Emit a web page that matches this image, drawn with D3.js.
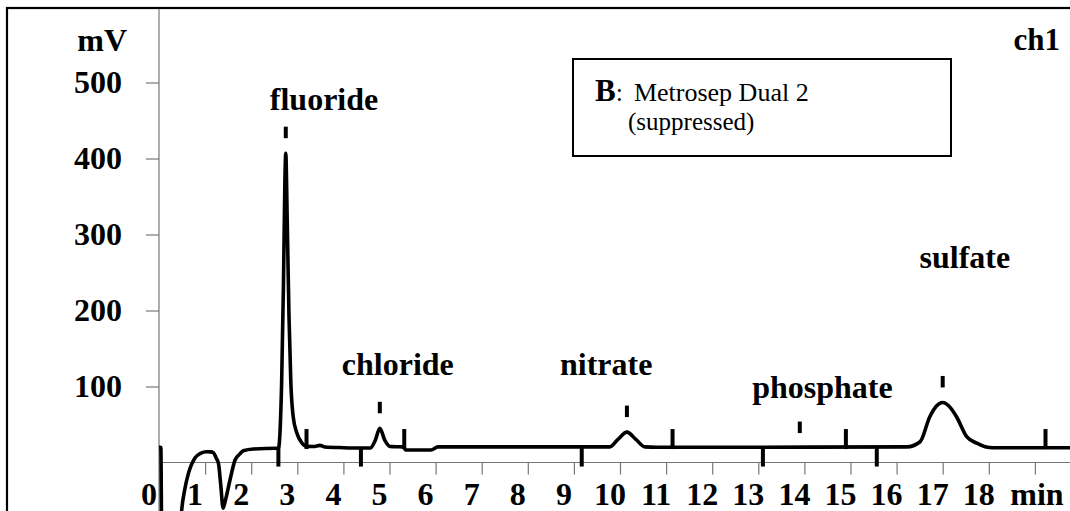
<!DOCTYPE html>
<html><head><meta charset="utf-8">
<script src="https://cdn.jsdelivr.net/npm/d3@7"></script>
<style>html,body{margin:0;padding:0;background:#fff;overflow:hidden}svg{display:block}</style>
</head><body><svg id="c" width="1070" height="511"></svg>
<script>
// ---- data ----
const traceTime = [0, 0.04, 0.06, 0.45, 0.49, 0.56, 0.64, 0.78, 0.9, 1.03, 1.12, 1.18, 1.24, 1.29, 1.34, 1.39, 1.44, 1.54, 1.65, 1.75, 1.83, 2.05, 2.55, 2.59, 2.66, 2.70, 2.73, 2.75, 2.78, 2.82, 2.86, 2.91, 2.99, 3.10, 3.20, 3.35, 3.49, 3.6, 4.0, 4.4, 4.58, 4.69, 4.79, 4.9, 5.01, 5.12, 5.3, 5.35, 5.9, 6.05, 9.78, 9.95, 10.15, 10.35, 10.54, 10.8, 16.22, 16.51, 16.72, 16.86, 17.0, 17.14, 17.3, 17.52, 17.74, 17.92, 18.1, 19.8];
const traceMV   = [20, 20, -100, -100, -64, -35, -14, 6, 12, 14.2, 14, 12.9, 6, -1, -30, -60, -50, -23, 3.3, 11, 15.5, 17.8, 18.7, 18.7, 104.6, 235, 367, 407, 323, 192, 104.6, 60.7, 38.8, 25.7, 21.2, 21, 22.5, 20.5, 19.5, 19, 19, 29, 45, 29, 21, 20.8, 20.5, 16.5, 16.5, 20.5, 20.5, 30, 40, 30, 20.5, 20, 20.5, 27.3, 60.2, 74, 79, 74, 60.2, 34, 25.4, 20.8, 19.5, 19.5];

const xTickValues = [1, 2, 3, 4, 5, 6, 7, 8, 9, 10, 11, 12, 13, 14, 15, 16, 17, 18, 19];
const xTickLabels = ["0", "1", "2", "3", "4", "5", "6", "7", "8", "9", "10", "11", "12", "13", "14", "15", "16", "17", "18"];
const yTickValues = [100, 200, 300, 400, 500];

const peakNames = ["fluoride", "chloride", "nitrate", "phosphate", "sulfate"];
const peakTimes = [2.75, 4.79, 10.15, 13.9, 17.0];
const peakMV    = [407, 45, 40, 19, 79];
const windowStart = [2.59, 4.38, 9.17, 13.1, 15.57];
const windowEnd   = [3.20, 5.32, 11.14, 14.9, 19.23];
const baselineMV = 19;

// label anchor positions (time, mV) – layout only
const labelTime = [3.58, 5.18, 9.70, 14.39, 17.48];
const labelMV   = [464, 115, 115, 85, 256];

// ---- drawing ----
const svg = d3.select("#c");
const FONT = "'Liberation Serif','Times New Roman',Times,serif";
const x = d3.scaleLinear().domain([0, 19]).range([159, 1034.9]);
const y = d3.scaleLinear().domain([0, 500]).range([462.5, 82.5]);

// outer frame (extends beyond picture on right and bottom)
svg.append("rect").attr("x", 7).attr("y", 8).attr("width", 1200).attr("height", 700)
  .attr("fill", "none").attr("stroke", "#000").attr("stroke-width", 2.2);

// y axis
const yAxis = d3.axisLeft(y).tickValues(yTickValues).tickSize(13).tickPadding(24).tickFormat(d3.format("d"));
const gy = svg.append("g").attr("transform", "translate(159,0)").call(yAxis);
gy.select(".domain").remove();
gy.selectAll(".tick line").attr("stroke", "#777").attr("stroke-width", 1.2);
gy.selectAll(".tick text").attr("font-family", FONT).attr("font-weight", "bold").attr("font-size", 32).attr("fill", "#000");
svg.append("line").attr("x1", 159).attr("x2", 159).attr("y1", 9).attr("y2", 511).attr("stroke", "#777").attr("stroke-width", 1.2);

// x axis
const xAxis = d3.axisBottom(x).tickValues(xTickValues).tickSize(12).tickFormat("");
const gx = svg.append("g").attr("transform", `translate(0,${y(0)})`).call(xAxis);
gx.select(".domain").remove();
gx.selectAll(".tick line").attr("stroke", "#777").attr("stroke-width", 1.2);
svg.append("line").attr("x1", 159).attr("x2", 1070).attr("y1", y(0)).attr("y2", y(0)).attr("stroke", "#777").attr("stroke-width", 1.2);

svg.append("g").selectAll("text").data(xTickLabels).join("text")
  .attr("x", (d, i) => x(i) - 10).attr("y", 505)
  .attr("text-anchor", "middle").attr("font-family", FONT).attr("font-weight", "bold").attr("font-size", 32)
  .text(d => d);
svg.append("text").attr("x", x(19) + 2).attr("y", 505).attr("text-anchor", "middle")
  .attr("font-family", FONT).attr("font-weight", "bold").attr("font-size", 32).text("min");

// axis titles
svg.append("text").attr("x", 127).attr("y", 50.5).attr("text-anchor", "end")
  .attr("font-family", FONT).attr("font-weight", "bold").attr("font-size", 32).text("mV");
svg.append("text").attr("x", 1060).attr("y", 50).attr("text-anchor", "end")
  .attr("font-family", FONT).attr("font-weight", "bold").attr("font-size", 31).text("ch1");

// legend box
svg.append("rect").attr("x", 573).attr("y", 59).attr("width", 378).attr("height", 97)
  .attr("fill", "#fff").attr("stroke", "#000").attr("stroke-width", 2);
const lt = svg.append("text").attr("x", 595).attr("y", 101).attr("font-family", FONT);
lt.append("tspan").attr("font-weight", "bold").attr("font-size", 31).text("B");
lt.append("tspan").attr("font-size", 26).text(":");
lt.append("tspan").attr("font-size", 26).attr("dx", 11).text("Metrosep Dual 2");
svg.append("text").attr("x", 628).attr("y", 130).attr("font-family", FONT).attr("font-size", 25).text("(suppressed)");

// trace
const pts = traceTime.map((t, i) => [t, traceMV[i]]);
const line = d3.line().x(d => x(d[0])).y(d => y(d[1])).curve(d3.curveMonotoneX);
svg.append("path").attr("d", line(pts)).attr("fill", "none").attr("stroke", "#000")
  .attr("stroke-width", 3.6).attr("stroke-linejoin", "round").attr("stroke-linecap", "butt");

// integration window markers
const yb = y(baselineMV);
svg.append("g").selectAll("line").data(windowStart).join("line")
  .attr("x1", d => x(d)).attr("x2", d => x(d)).attr("y1", yb - 1).attr("y2", yb + 18.5)
  .attr("stroke", "#000").attr("stroke-width", 4);
svg.append("g").selectAll("line").data(windowEnd).join("line")
  .attr("x1", d => x(d)).attr("x2", d => x(d)).attr("y1", yb - 19).attr("y2", yb + 1)
  .attr("stroke", "#000").attr("stroke-width", 4);

// peak ticks
svg.append("g").selectAll("line").data(peakTimes).join("line")
  .attr("x1", d => x(d)).attr("x2", d => x(d))
  .attr("y1", (d, i) => y(peakMV[i]) - 26.5).attr("y2", (d, i) => y(peakMV[i]) - 15)
  .attr("stroke", "#000").attr("stroke-width", 4);

// peak labels
svg.append("g").selectAll("text").data(peakNames).join("text")
  .attr("x", (d, i) => x(labelTime[i])).attr("y", (d, i) => y(labelMV[i]))
  .attr("text-anchor", "middle").attr("font-family", FONT).attr("font-weight", "bold").attr("font-size", 32)
  .text(d => d);
</script></body></html>
